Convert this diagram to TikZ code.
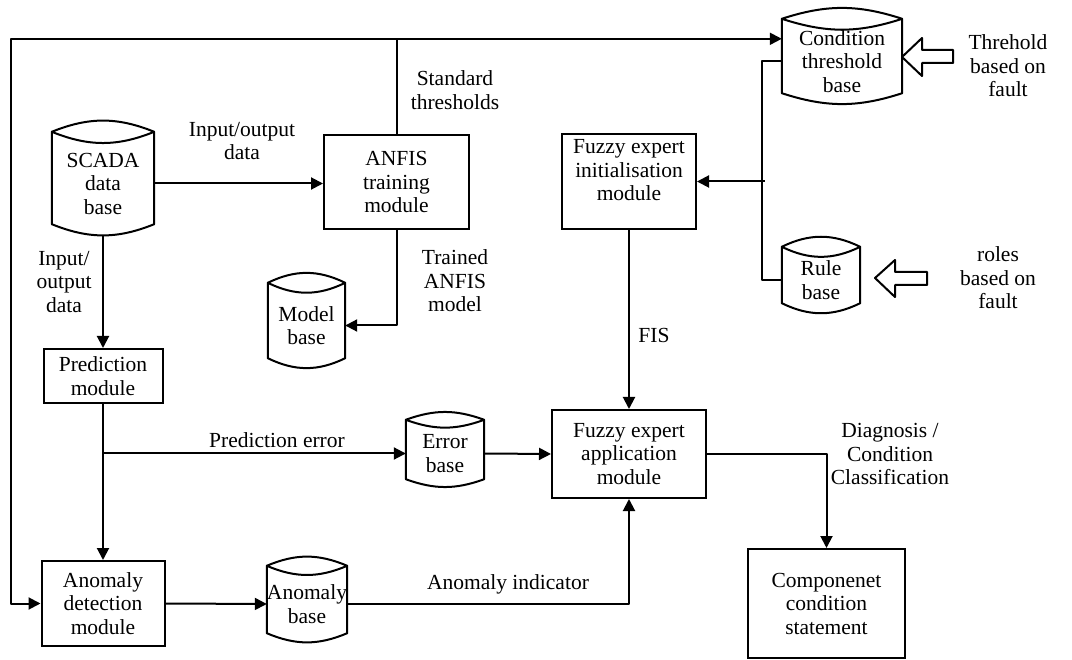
\documentclass[tikz,border=0pt]{standalone}
\usepackage{fontspec}
\setmainfont{Liberation Serif}
\usetikzlibrary{arrows.meta,calc}
\begin{document}
\begin{tikzpicture}[x=1pt,y=-1pt,
  font=\fontsize{21.5}{23.5}\selectfont,
  every node/.style={align=center, inner sep=0pt},
  wire/.style={line width=2pt, line join=round},
  arr/.style={wire, -{Triangle[length=12pt,width=12pt]}},
  box/.style={draw, line width=2pt},
  drum/.style={draw=none}
]
\useasboundingbox (0,0) rectangle (1072,660);

% data stores (outlines drawn below)
\node[drum, minimum width=102pt, minimum height=103pt] (scada) at (103,183.5) {SCADA\\data\\base};
\node[drum, minimum width=120pt, minimum height=85pt] (cond) at (842,61.5) {Condition\\threshold\\base};
\node[drum, minimum width=77pt, minimum height=85pt] (model) at (306.5,325.5) {Model\\base};
\node[drum, minimum width=78pt, minimum height=66pt] (rule) at (821,280) {Rule\\base};
\node[drum, minimum width=78pt, minimum height=67pt] (err) at (445,453.5) {Error\\base};
\node[drum, minimum width=78pt, minimum height=76pt] (anb) at (307,604) {Anomaly\\base};

\foreach \n/\a/\b in {scada/22/11, cond/18/11, model/26/10, rule/26/10, err/20/8, anb/23/9}{
  \draw[wire] (\n.north west) to[bend left=\a] (\n.north east) to[bend left=\a] (\n.north west)
    -- ($(\n.south west)+(0,-\b)$) to[bend right=\a] ($(\n.south east)+(0,-\b)$) -- (\n.north east);
}

% processing modules
\node[box, minimum width=145pt, minimum height=94pt] (anfis) at (396.5,182) {ANFIS\\training\\module};
\node[box, minimum width=134pt, minimum height=95pt,
  label={[name=initt, yshift=11pt]center:{Fuzzy expert\\initialisation\\module}}] (init) at (629,181.5) {};
\node[box, minimum width=119pt, minimum height=54pt] (pred) at (103,376) {Prediction\\module};
\node[box, minimum width=123pt, minimum height=85pt] (anomdet) at (103,603.5) {Anomaly\\detection\\module};
\node[box, minimum width=154pt, minimum height=88pt] (app) at (629,454) {Fuzzy expert\\application\\module};
\node[box, minimum width=157pt, minimum height=109pt] (comp) at (826.5,603.5) {Componenet\\condition\\statement};

% input arrows (hollow block arrows)
\draw[wire] (902,57) -- (922,38) -- (922,50) -- (953,50) -- (953,63) -- (922,63) -- (922,76) -- cycle;
\draw[wire] (875,278) -- (895,260) -- (895,272) -- (927,272) -- (927,285) -- (895,285) -- (895,297) -- cycle;

% connectors
\coordinate (tl) at (11,39);
\draw[arr] (anfis.north) |- ($(cond.north west)+(0,20)$);
\draw[arr] (anfis.north) |- (tl) |- (anomdet.west);
\draw[arr] (scada.east) -- (scada.east -| anfis.west);
\draw[arr] (anfis.south) |- (model.east);
\draw[arr] (scada.south) -- (pred.north);
\draw[arr] (pred.south) -- (anomdet.north);
\draw[arr] (pred.south |- err.west) -- (err.west);
\draw[arr] (anomdet.east) -- (anb.west);
\draw[arr] (anb.east) -| (app.south);
\draw[arr] (err.east) -- (app.west);
\draw[arr] (init.south) -- (app.north);
\draw[arr] (app.east) -| (comp.north);
\coordinate (j) at ($(cond.west)+(-20,0)$);
\draw[wire] (cond.west) -- (j) |- (rule.west);
\draw[arr] ($(j |- init.east)+(3,0)$) -- (init.east);

% labels
\node (lio) at (242,141) {Input/output\\data};
\node (lstd) at (455,90) {Standard\\thresholds};
\node (ltr) at (455,281) {Trained\\ANFIS\\model};
\node (lio2) at (64,282) {Input/\\output\\data};
\node (lpe) at (277,440) {Prediction error};
\node (lai) at (508,584) {Anomaly indicator};
\node (lfis) at (654,335) {FIS};
\node (ldiag) at (890,454) {Diagnosis /\\Condition\\Classification};
\node (lthr) at (1008,66) {Threhold\\based on\\fault};
\node (lrol) at (998,278) {roles\\based on\\fault};
\end{tikzpicture}
\end{document}
